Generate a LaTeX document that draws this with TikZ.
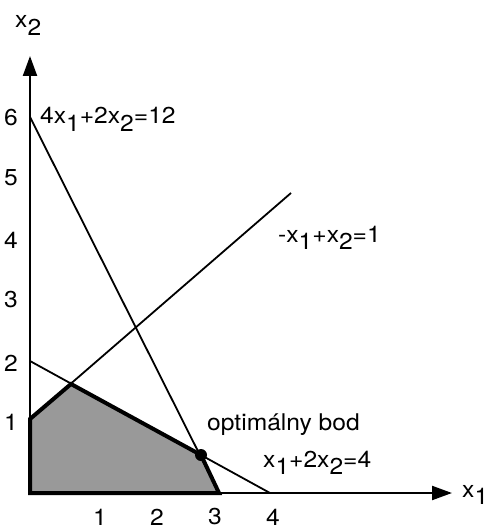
\documentclass[tikz,border=0pt]{standalone}
\usepackage{fontspec}
\setmainfont[FakeStretch=1.07]{TeX Gyre Heros}
\usetikzlibrary{arrows.meta}
\newcommand{\lo}[1]{\raisebox{-0.32em}{#1}}

\begin{document}
\begin{tikzpicture}[
  x=1pt, y=-1pt,
  lbl/.style={font=\fontsize{23}{27}\selectfont, inner sep=0pt},
  axis/.style={line width=2.2pt, -{Triangle[length=20pt,width=14pt]}},
  bound/.style={line width=1.8pt},
  region/.style={fill=black!40, draw=black, line width=4pt, line join=miter}
]
\useasboundingbox (0,0) rectangle (487,529);

% corners of the feasible region
\coordinate (o) at (30,493);
\coordinate (p1) at (30,419);
\coordinate (p2) at (71,384);
\coordinate (opt) at (201,455);
\coordinate (p4) at (219,493);

% feasible region
\path[region] (o) -- (p1) -- (p2) -- (opt) -- (p4) -- cycle;

% constraint lines
\coordinate (a1) at (30,117);
\coordinate (b2) at (291,193);
\coordinate (c1) at (30,361);
\coordinate (c2) at (270,493);
\draw[bound] (a1) -- (p4);
\draw[bound] (p1) -- (b2);
\draw[bound] (c1) -- (c2);

% axes
\coordinate (xend) at (452,493);
\coordinate (yend) at (30,56);
\draw[axis] (o) -- (xend);
\draw[axis] (o) -- (yend);

% optimal point
\fill (opt) circle (6);

% axis labels
\node[lbl, anchor=base west] (lx1) at (462,497) {x\lo{1}};
\node[lbl, anchor=base west] (lx2) at (15,28) {x\lo{2}};

% ticks
\foreach \v/\py in {1/422,2/363,3/300,4/240,5/178,6/118}
  \node[lbl] (ty\v) at (11,\py) {\v};
\foreach \v/\px in {1/100,2/157,3/215,4/273}
  \node[lbl] (tx\v) at (\px,517) {\v};

% line labels
\node[lbl, anchor=base west] (la) at (40,124) {4x\lo{1}+2x\lo{2}=12};
\node[lbl, anchor=base west] (lb) at (278,242) {-x\lo{1}+x\lo{2}=1};
\node[lbl, anchor=base west] (lc) at (263,467) {x\lo{1}+2x\lo{2}=4};
\node[lbl, anchor=base west] (lopt) at (207,430) {optimálny bod};
\end{tikzpicture}
\end{document}
